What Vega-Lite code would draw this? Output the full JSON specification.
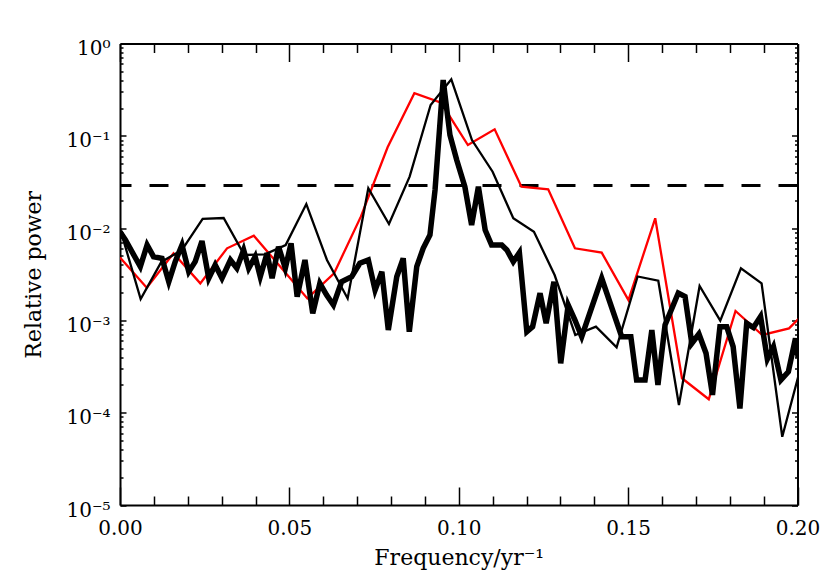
{
  "$schema": "https://vega.github.io/schema/vega-lite/v6.json",
  "width": 677.5,
  "height": 461.5,
  "autosize": "none",
  "padding": {"left": 120, "top": 43.5, "right": 32.5, "bottom": 75},
  "background": "white",
  "config": {
    "view": {"stroke": null},
    "axis": {"domainColor": "black", "tickColor": "black", "labelColor": "black", "titleColor": "black", "labelFont": "DejaVu Serif", "titleFont": "DejaVu Serif", "grid": false, "domainWidth": 2, "tickWidth": 1.5, "labelFontWeight": "normal", "titleFontWeight": "normal", "labelFlush": false, "labelOverlap": false}
  },
  "data": {"values": [
    {"s": "red", "f": 0, "p": 0.0048},
    {"s": "red", "f": 0.0079, "p": 0.00226},
    {"s": "red", "f": 0.0158, "p": 0.00533},
    {"s": "red", "f": 0.0237, "p": 0.00252},
    {"s": "red", "f": 0.0316, "p": 0.00604},
    {"s": "red", "f": 0.0395, "p": 0.00828},
    {"s": "red", "f": 0.0474, "p": 0.00379},
    {"s": "red", "f": 0.0553, "p": 0.00173},
    {"s": "red", "f": 0.0632, "p": 0.00324},
    {"s": "red", "f": 0.0711, "p": 0.0133},
    {"s": "red", "f": 0.079, "p": 0.075},
    {"s": "red", "f": 0.0869, "p": 0.289},
    {"s": "red", "f": 0.0948, "p": 0.228},
    {"s": "red", "f": 0.1027, "p": 0.0795},
    {"s": "red", "f": 0.1106, "p": 0.1175},
    {"s": "red", "f": 0.1185, "p": 0.0281},
    {"s": "red", "f": 0.1264, "p": 0.0263},
    {"s": "red", "f": 0.1343, "p": 0.00604},
    {"s": "red", "f": 0.1422, "p": 0.00542},
    {"s": "red", "f": 0.1501, "p": 0.00166},
    {"s": "red", "f": 0.158, "p": 0.01277},
    {"s": "red", "f": 0.1659, "p": 0.000236},
    {"s": "red", "f": 0.1738, "p": 0.00014},
    {"s": "red", "f": 0.1817, "p": 0.001265},
    {"s": "red", "f": 0.1896, "p": 0.000695},
    {"s": "red", "f": 0.1975, "p": 0.00082},
    {"s": "red", "f": 0.2054, "p": 0.0016},
    {"s": "thin", "f": 0, "p": 0.00995},
    {"s": "thin", "f": 0.0061, "p": 0.0017},
    {"s": "thin", "f": 0.0122, "p": 0.0043},
    {"s": "thin", "f": 0.0183, "p": 0.0058},
    {"s": "thin", "f": 0.0244, "p": 0.01256},
    {"s": "thin", "f": 0.0306, "p": 0.01286},
    {"s": "thin", "f": 0.0367, "p": 0.00511},
    {"s": "thin", "f": 0.0428, "p": 0.0052},
    {"s": "thin", "f": 0.0489, "p": 0.00656},
    {"s": "thin", "f": 0.055, "p": 0.01824},
    {"s": "thin", "f": 0.0611, "p": 0.00451},
    {"s": "thin", "f": 0.0672, "p": 0.00173},
    {"s": "thin", "f": 0.0733, "p": 0.027},
    {"s": "thin", "f": 0.0794, "p": 0.01107},
    {"s": "thin", "f": 0.0855, "p": 0.0361},
    {"s": "thin", "f": 0.0917, "p": 0.216},
    {"s": "thin", "f": 0.0978, "p": 0.409},
    {"s": "thin", "f": 0.1039, "p": 0.09},
    {"s": "thin", "f": 0.11, "p": 0.0408},
    {"s": "thin", "f": 0.1161, "p": 0.01277},
    {"s": "thin", "f": 0.1222, "p": 0.00914},
    {"s": "thin", "f": 0.1283, "p": 0.0031},
    {"s": "thin", "f": 0.1344, "p": 0.000695},
    {"s": "thin", "f": 0.1405, "p": 0.000855},
    {"s": "thin", "f": 0.1466, "p": 0.000512},
    {"s": "thin", "f": 0.1528, "p": 0.00299},
    {"s": "thin", "f": 0.1589, "p": 0.00269},
    {"s": "thin", "f": 0.165, "p": 0.000121},
    {"s": "thin", "f": 0.1711, "p": 0.00236},
    {"s": "thin", "f": 0.1772, "p": 0.000993},
    {"s": "thin", "f": 0.1833, "p": 0.00367},
    {"s": "thin", "f": 0.1894, "p": 0.00252},
    {"s": "thin", "f": 0.1955, "p": 0.0000549},
    {"s": "thin", "f": 0.2016, "p": 0.000382},
    {"s": "thick", "f": 0, "p": 0.00914},
    {"s": "thick", "f": 0.0016, "p": 0.00743},
    {"s": "thick", "f": 0.006, "p": 0.00382},
    {"s": "thick", "f": 0.008, "p": 0.00656},
    {"s": "thick", "f": 0.0099, "p": 0.0049},
    {"s": "thick", "f": 0.0124, "p": 0.00471},
    {"s": "thick", "f": 0.0144, "p": 0.00262},
    {"s": "thick", "f": 0.0163, "p": 0.00433},
    {"s": "thick", "f": 0.0183, "p": 0.00656},
    {"s": "thick", "f": 0.0203, "p": 0.00337},
    {"s": "thick", "f": 0.0222, "p": 0.00433},
    {"s": "thick", "f": 0.0242, "p": 0.00724},
    {"s": "thick", "f": 0.0262, "p": 0.00286},
    {"s": "thick", "f": 0.0281, "p": 0.00398},
    {"s": "thick", "f": 0.0301, "p": 0.00286},
    {"s": "thick", "f": 0.0326, "p": 0.00451},
    {"s": "thick", "f": 0.0345, "p": 0.00367},
    {"s": "thick", "f": 0.0365, "p": 0.00579},
    {"s": "thick", "f": 0.038, "p": 0.00367},
    {"s": "thick", "f": 0.0399, "p": 0.0049},
    {"s": "thick", "f": 0.0414, "p": 0.00297},
    {"s": "thick", "f": 0.0434, "p": 0.00533},
    {"s": "thick", "f": 0.0449, "p": 0.00286},
    {"s": "thick", "f": 0.0468, "p": 0.00629},
    {"s": "thick", "f": 0.0488, "p": 0.00367},
    {"s": "thick", "f": 0.0505, "p": 0.00684},
    {"s": "thick", "f": 0.0523, "p": 0.00181},
    {"s": "thick", "f": 0.0546, "p": 0.00451},
    {"s": "thick", "f": 0.0569, "p": 0.00119},
    {"s": "thick", "f": 0.059, "p": 0.00252},
    {"s": "thick", "f": 0.061, "p": 0.00188},
    {"s": "thick", "f": 0.063, "p": 0.00147},
    {"s": "thick", "f": 0.0654, "p": 0.00262},
    {"s": "thick", "f": 0.0684, "p": 0.00297},
    {"s": "thick", "f": 0.0708, "p": 0.00416},
    {"s": "thick", "f": 0.0733, "p": 0.00451},
    {"s": "thick", "f": 0.0753, "p": 0.00213},
    {"s": "thick", "f": 0.0773, "p": 0.00337},
    {"s": "thick", "f": 0.0792, "p": 0.000787},
    {"s": "thick", "f": 0.0817, "p": 0.00297},
    {"s": "thick", "f": 0.0836, "p": 0.00471},
    {"s": "thick", "f": 0.0854, "p": 0.000755},
    {"s": "thick", "f": 0.0876, "p": 0.00382},
    {"s": "thick", "f": 0.0895, "p": 0.00604},
    {"s": "thick", "f": 0.0915, "p": 0.00841},
    {"s": "thick", "f": 0.093, "p": 0.0259},
    {"s": "thick", "f": 0.0954, "p": 0.402},
    {"s": "thick", "f": 0.0974, "p": 0.102},
    {"s": "thick", "f": 0.0994, "p": 0.0547},
    {"s": "thick", "f": 0.1018, "p": 0.0281},
    {"s": "thick", "f": 0.1038, "p": 0.0108},
    {"s": "thick", "f": 0.1058, "p": 0.0281},
    {"s": "thick", "f": 0.1078, "p": 0.00953},
    {"s": "thick", "f": 0.1097, "p": 0.00656},
    {"s": "thick", "f": 0.1127, "p": 0.00656},
    {"s": "thick", "f": 0.1142, "p": 0.00579},
    {"s": "thick", "f": 0.1161, "p": 0.00433},
    {"s": "thick", "f": 0.1179, "p": 0.00542},
    {"s": "thick", "f": 0.1201, "p": 0.000755},
    {"s": "thick", "f": 0.1218, "p": 0.000855},
    {"s": "thick", "f": 0.124, "p": 0.00197},
    {"s": "thick", "f": 0.1258, "p": 0.00093},
    {"s": "thick", "f": 0.1281, "p": 0.00262},
    {"s": "thick", "f": 0.1301, "p": 0.000343},
    {"s": "thick", "f": 0.1323, "p": 0.00147},
    {"s": "thick", "f": 0.1343, "p": 0.00101},
    {"s": "thick", "f": 0.1363, "p": 0.000666},
    {"s": "thick", "f": 0.1422, "p": 0.00286},
    {"s": "thick", "f": 0.1481, "p": 0.000666},
    {"s": "thick", "f": 0.1508, "p": 0.000666},
    {"s": "thick", "f": 0.1525, "p": 0.000226},
    {"s": "thick", "f": 0.155, "p": 0.000226},
    {"s": "thick", "f": 0.157, "p": 0.000787},
    {"s": "thick", "f": 0.1588, "p": 0.0002},
    {"s": "thick", "f": 0.1609, "p": 0.00089},
    {"s": "thick", "f": 0.1648, "p": 0.00198},
    {"s": "thick", "f": 0.1668, "p": 0.00181},
    {"s": "thick", "f": 0.1688, "p": 0.000565},
    {"s": "thick", "f": 0.1709, "p": 0.000713},
    {"s": "thick", "f": 0.173, "p": 0.00044},
    {"s": "thick", "f": 0.1749, "p": 0.000156},
    {"s": "thick", "f": 0.1771, "p": 0.000855},
    {"s": "thick", "f": 0.1791, "p": 0.000855},
    {"s": "thick", "f": 0.181, "p": 0.000519},
    {"s": "thick", "f": 0.183, "p": 0.000111},
    {"s": "thick", "f": 0.185, "p": 0.00093},
    {"s": "thick", "f": 0.187, "p": 0.000838},
    {"s": "thick", "f": 0.1891, "p": 0.0011},
    {"s": "thick", "f": 0.1911, "p": 0.000382},
    {"s": "thick", "f": 0.1929, "p": 0.000519},
    {"s": "thick", "f": 0.1951, "p": 0.000226},
    {"s": "thick", "f": 0.1973, "p": 0.000278},
    {"s": "thick", "f": 0.1994, "p": 0.00064},
    {"s": "thick", "f": 0.2002, "p": 0.000396}
  ]},
  "resolve": {"axis": {"x": "independent", "y": "independent"}},
  "layer": [
    {
      "data": {"values": [{"p": 0.029}]},
      "mark": {"type": "rule", "color": "black", "strokeWidth": 3, "strokeDash": [19, 18]},
      "encoding": {
        "y": {"field": "p", "type": "quantitative", "scale": {"type": "log", "domain": [0.00001, 1], "nice": false},
              "axis": {"orient": "right", "values": [0.00001, 0.0001, 0.001, 0.01, 0.1, 1], "labels": false, "tickSize": -6, "domain": true, "title": null}}
      }
    },
    {
      "transform": [{"filter": "datum.s == 'red'"}],
      "mark": {"type": "line", "color": "#ff0000", "strokeWidth": 2.3, "clip": true},
      "encoding": {
        "x": {"field": "f", "type": "quantitative", "scale": {"domain": [0, 0.2], "nice": false, "zero": false},
              "axis": {"orient": "bottom", "values": [0, 0.05, 0.1, 0.15, 0.2], "format": ".2f", "ticks": false, "labelPadding": 13, "labelFontSize": 20, "title": "Frequency/yr⁻¹", "titleFontSize": 22, "titlePadding": 9, "domain": true}},
        "y": {"field": "p", "type": "quantitative", "scale": {"type": "log", "domain": [0.00001, 1], "nice": false},
              "axis": {"orient": "left", "values": [0.00001, 0.0001, 0.001, 0.01, 0.1, 1], "ticks": false, "labelPadding": 10, "labelFontSize": 20, "labelOffset": 5, "labelExpr": "datum.value >= 0.5 ? '10⁰' : datum.value >= 0.05 ? '10⁻¹' : datum.value >= 0.005 ? '10⁻²' : datum.value >= 0.0005 ? '10⁻³' : datum.value >= 0.00005 ? '10⁻⁴' : '10⁻⁵'", "title": "Relative power", "titleFontSize": 22, "titlePadding": 20, "domain": true}}
      }
    },
    {
      "transform": [{"filter": "datum.s == 'thin'"}],
      "mark": {"type": "line", "color": "black", "strokeWidth": 2.3, "clip": true},
      "encoding": {
        "x": {"field": "f", "type": "quantitative", "scale": {"domain": [0, 0.2], "nice": false, "zero": false},
              "axis": {"orient": "bottom", "values": [0, 0.05, 0.1, 0.15, 0.2], "labels": false, "tickSize": -18, "domain": false, "title": null}},
        "y": {"field": "p", "type": "quantitative", "scale": {"type": "log", "domain": [0.00001, 1], "nice": false},
              "axis": {"orient": "left", "values": [0.00001, 0.0001, 0.001, 0.01, 0.1, 1], "labels": false, "tickSize": -6, "domain": false, "title": null}}
      }
    },
    {
      "transform": [{"filter": "datum.s == 'thick'"}],
      "mark": {"type": "line", "color": "black", "strokeWidth": 5.5, "clip": true},
      "encoding": {
        "x": {"field": "f", "type": "quantitative", "scale": {"domain": [0, 0.2], "nice": false, "zero": false},
              "axis": {"orient": "bottom", "values": [0.01, 0.02, 0.03, 0.04, 0.06, 0.07, 0.08, 0.09, 0.11, 0.12, 0.13, 0.14, 0.16, 0.17, 0.18, 0.19], "labels": false, "tickSize": -9, "domain": false, "title": null}},
        "y": {"field": "p", "type": "quantitative", "scale": {"type": "log", "domain": [0.00001, 1], "nice": false},
              "axis": {"orient": "left", "values": [0.00002, 0.00003, 0.00004, 0.00005, 0.00006, 0.00007, 0.00008, 0.00009, 0.0002, 0.0003, 0.0004, 0.0005, 0.0006, 0.0007, 0.0008, 0.0009, 0.002, 0.003, 0.004, 0.005, 0.006, 0.007, 0.008, 0.009, 0.02, 0.03, 0.04, 0.05, 0.06, 0.07, 0.08, 0.09, 0.2, 0.3, 0.4, 0.5, 0.6, 0.7, 0.8, 0.9], "labels": false, "tickSize": -3, "domain": false, "title": null}}
      }
    },
    {
      "transform": [{"filter": "datum.s == 'red'"}],
      "mark": {"type": "point", "opacity": 0},
      "encoding": {
        "x": {"field": "f", "type": "quantitative", "scale": {"domain": [0, 0.2], "nice": false, "zero": false},
              "axis": {"orient": "top", "values": [0, 0.05, 0.1, 0.15, 0.2], "labels": false, "tickSize": -18, "domain": true, "title": null}},
        "y": {"field": "p", "type": "quantitative", "scale": {"type": "log", "domain": [0.00001, 1], "nice": false},
              "axis": {"orient": "right", "values": [0.00002, 0.00003, 0.00004, 0.00005, 0.00006, 0.00007, 0.00008, 0.00009, 0.0002, 0.0003, 0.0004, 0.0005, 0.0006, 0.0007, 0.0008, 0.0009, 0.002, 0.003, 0.004, 0.005, 0.006, 0.007, 0.008, 0.009, 0.02, 0.03, 0.04, 0.05, 0.06, 0.07, 0.08, 0.09, 0.2, 0.3, 0.4, 0.5, 0.6, 0.7, 0.8, 0.9], "labels": false, "tickSize": -3, "domain": false, "title": null}}
      }
    },
    {
      "transform": [{"filter": "datum.s == 'red'"}],
      "mark": {"type": "point", "opacity": 0},
      "encoding": {
        "x": {"field": "f", "type": "quantitative", "scale": {"domain": [0, 0.2], "nice": false, "zero": false},
              "axis": {"orient": "top", "values": [0.01, 0.02, 0.03, 0.04, 0.06, 0.07, 0.08, 0.09, 0.11, 0.12, 0.13, 0.14, 0.16, 0.17, 0.18, 0.19], "labels": false, "tickSize": -9, "domain": false, "title": null}},
        "y": {"field": "p", "type": "quantitative", "scale": {"type": "log", "domain": [0.00001, 1], "nice": false}, "axis": null}
      }
    }
  ]
}
